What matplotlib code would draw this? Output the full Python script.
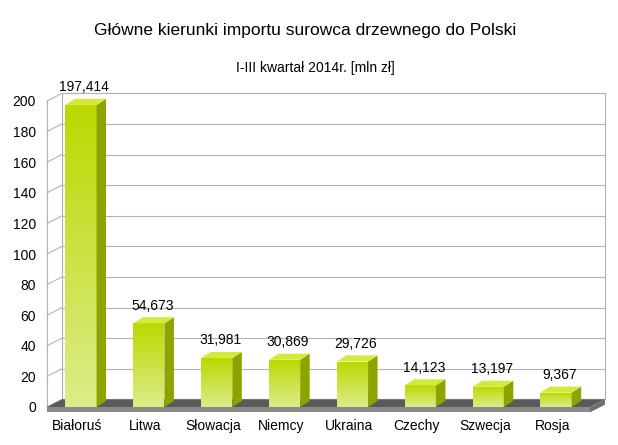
import matplotlib
matplotlib.use("Agg")
import matplotlib.pyplot as plt
import numpy as np
from matplotlib.patches import Polygon
from matplotlib.colors import LinearSegmentedColormap

plt.rcParams["font.family"] = "Liberation Sans"

categories = ["Białoruś", "Litwa", "Słowacja", "Niemcy", "Ukraina", "Czechy", "Szwecja", "Rosja"]
values = [197.414, 54.673, 31.981, 30.869, 29.726, 14.123, 13.197, 9.367]
labels = ["197,414", "54,673", "31,981", "30,869", "29,726", "14,123", "13,197", "9,367"]

fig = plt.figure(figsize=(6.18, 4.45), dpi=100)
ax = fig.add_axes([47/618, 1-407/445, 543/618, 306/445])
ax.set_xlim(0, 8); ax.set_ylim(0, 200)
for s in ax.spines.values(): s.set_visible(False)
ax.set_xticks([]); ax.set_yticks(range(0, 201, 20))
ax.tick_params(length=0, labelsize=10, pad=8)

DX, DY = 0.22, 5.0
ax.add_patch(Polygon([(DX, DY), (8+DX, DY), (8+DX, 200+DY), (DX, 200+DY)], closed=True,
                     facecolor="white", edgecolor="#b0b0b0", lw=0.8, clip_on=False, zorder=0))
for g in range(0, 201, 20):
    ax.plot([DX, 8+DX], [g+DY, g+DY], color="#b3b3b3", lw=0.8, clip_on=False, zorder=0.5)
    ax.plot([0, DX], [g, g+DY], color="#b3b3b3", lw=0.8, clip_on=False, zorder=0.5)
ax.plot([0, 0], [0, 200], color="#b3b3b3", lw=0.8, clip_on=False, zorder=0.5)
ax.add_patch(Polygon([(0, 0), (8, 0), (8+DX, DY), (DX, DY)], closed=True,
                     facecolor="#5a5a5a", edgecolor="none", clip_on=False, zorder=1))
ax.add_patch(Polygon([(0, -3.5), (8, -3.5), (8, 0), (0, 0)], closed=True,
                     facecolor="#8a8a8a", edgecolor="none", clip_on=False, zorder=1))
ax.add_patch(Polygon([(8, -3.5), (8+DX, DY-3.5), (8+DX, DY), (8, 0)], closed=True,
                     facecolor="#6e6e6e", edgecolor="none", clip_on=False, zorder=1))

W = 0.46
grad = np.linspace(0, 1, 100).reshape(-1, 1)
cmap = LinearSegmentedColormap.from_list("g", ["#dcec8a", "#bcd800"])
for i, (v, lab) in enumerate(zip(values, labels)):
    x0 = i + 0.5 - W/2
    x1 = x0 + W
    sdx, sdy = 0.14, 4.0
    front = Polygon([(x0, 0), (x1, 0), (x1, v), (x0, v)], closed=True, facecolor="none", edgecolor="none", zorder=3)
    ax.add_patch(front)
    im = ax.imshow(grad, extent=[x0, x1, 0, v], origin="lower", cmap=cmap, aspect="auto", zorder=3)
    im.set_clip_path(front)
    ax.add_patch(Polygon([(x1, 0), (x1+sdx, sdy), (x1+sdx, v+sdy), (x1, v)], closed=True,
                         facecolor="#8fa300", edgecolor="none", zorder=3, clip_on=False))
    ax.add_patch(Polygon([(x0, v), (x1, v), (x1+sdx, v+sdy), (x0+sdx, v+sdy)], closed=True,
                         facecolor="#d4ea3a", edgecolor="none", zorder=3, clip_on=False))
    ax.text((x0+x1)/2+0.05, v+sdy+3, lab, ha="center", va="bottom", fontsize=10, zorder=4)
    ax.text(i+0.5-0.05, -8, categories[i], ha="center", va="top", fontsize=10)

ax.set_xlim(0, 8); ax.set_ylim(0, 200)
fig.text(305/618, 1-30/445, "Główne kierunki importu surowca drzewnego do Polski", ha="center", va="center", fontsize=12.5)
fig.text(315/618, 1-68/445, "I-III kwartał 2014r. [mln zł]", ha="center", va="center", fontsize=10)
fig.savefig("out.png", dpi=100)
